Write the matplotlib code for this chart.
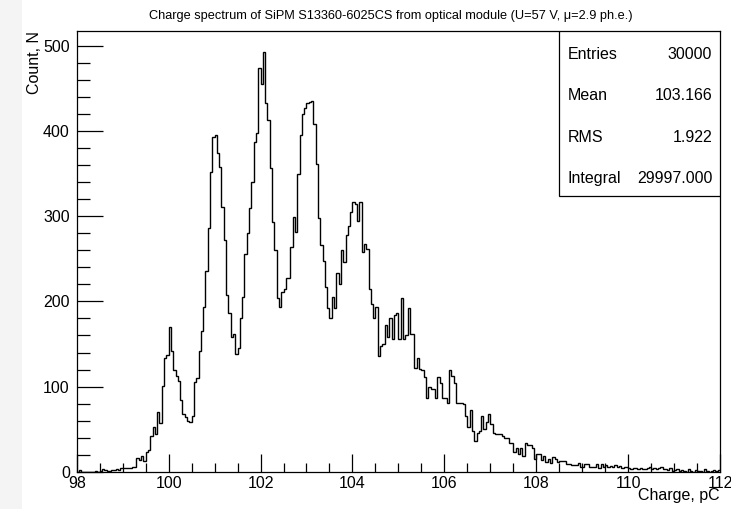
import numpy as np
import matplotlib
matplotlib.use("Agg")
import matplotlib.pyplot as plt
from matplotlib.patches import Rectangle
from matplotlib.ticker import MultipleLocator

plt.rcParams['font.family'] = ['Liberation Sans', 'DejaVu Sans']

# histogram: 280 bins of 0.05 pC from 98 to 112, counts
x_min, x_max, bin_w = 98.0, 112.0, 0.05
c98 = [0, 2, 0, 0, 0, 0, 0, 0, 1, 0, 1, 3, 2, 1, 1, 2, 2, 3, 2, 4]
c99 = [4, 4, 4, 4, 5, 6, 16, 14, 18, 13, 23, 26, 42, 52, 44, 70, 57, 101, 133, 137]
c100 = [170, 142, 120, 113, 107, 84, 68, 64, 60, 58, 66, 105, 110, 142, 165, 193, 236, 286, 352, 393]
c101 = [395, 374, 358, 311, 272, 207, 186, 158, 162, 138, 145, 180, 205, 256, 280, 310, 340, 387, 398, 474]
c102 = [456, 493, 433, 413, 357, 293, 260, 204, 193, 211, 215, 227, 227, 264, 299, 282, 350, 395, 420, 427]
c103 = [433, 434, 436, 409, 362, 298, 266, 248, 217, 192, 180, 205, 192, 233, 221, 260, 246, 278, 289, 305]
c104 = [317, 315, 295, 317, 258, 268, 262, 215, 197, 181, 193, 136, 148, 150, 172, 158, 181, 156, 184, 186]
c105 = [156, 204, 156, 160, 192, 162, 162, 122, 134, 121, 119, 111, 86, 99, 97, 97, 86, 111, 104, 87]
c106 = [87, 81, 119, 113, 104, 81, 81, 81, 80, 66, 52, 72, 48, 36, 46, 48, 66, 50, 58, 68]
c107 = [56, 46, 44, 44, 44, 42, 40, 40, 34, 34, 23, 28, 21, 28, 19, 34, 31, 31, 28, 15]
c108 = [21, 21, 14, 19, 11, 15, 10, 17, 15, 11, 13, 13, 13, 9, 9, 8, 8, 8, 10, 6]
c109 = [6, 9, 9, 6, 6, 6, 9, 4, 9, 6, 8, 5, 7, 6, 8, 5, 7, 4, 6, 5]
c110 = [4, 3, 4, 4, 3, 4, 3, 3, 4, 5, 3, 4, 3, 4, 5, 3, 3, 2, 4, 1]
c111 = [2, 3, 1, 2, 1, 0, 3, 1, 0, 2, 1, 1, 0, 3, 1, 0, 1, 2, 1, 2]

stat_names = ["Entries", "Mean", "RMS", "Integral"]
stat_values = ["30000", "103.166", "1.922", "29997.000"]

counts = np.array(c98 + c99 + c100 + c101 + c102 + c103 + c104 + c105
                  + c106 + c107 + c108 + c109 + c110 + c111)
edges = np.linspace(x_min, x_max, len(counts) + 1)

fig = plt.figure(figsize=(7.31, 5.09), dpi=100)
# pale page margin on the left of the canvas
fig.patches.append(Rectangle((0, 0), 22 / 731, 1, transform=fig.transFigure,
                             facecolor='#f4f4f4', edgecolor='none', zorder=0))
ax = fig.add_axes([0.105, 0.0733, 0.880, 0.8657])

ax.stairs(counts, edges, color='black', lw=1.0, baseline=None)
ax.set_xlim(x_min, x_max)
ax.set_ylim(0, counts.max() * 1.05)

ax.xaxis.set_major_locator(MultipleLocator(2))
ax.xaxis.set_minor_locator(MultipleLocator(0.5))
ax.yaxis.set_major_locator(MultipleLocator(100))
ax.yaxis.set_minor_locator(MultipleLocator(20))
ax.tick_params(which='both', direction='in', top=False, right=False,
               labelsize=11.5, width=0.9)
ax.tick_params(axis='x', which='major', length=13, pad=3)
ax.tick_params(axis='x', which='minor', length=6.5)
ax.tick_params(axis='y', which='major', length=19, pad=5)
ax.tick_params(axis='y', which='minor', length=9.5)
for s in ax.spines.values():
    s.set_linewidth(0.9)

ax.set_xlabel("Charge, pC", fontsize=11.5, loc='right', labelpad=-2)
ax.set_ylabel("Count, N", fontsize=11.5, loc='top', labelpad=1)

fig.text(0.535, 0.969, "Charge spectrum of SiPM S13360-6025CS from optical module (U=57 V, \u03bc=2.9 ph.e.)",
         ha='center', va='center', fontsize=9.2)

# stats box in the top right corner
ax.add_patch(Rectangle((0.75, 0.6256), 0.25, 0.3744, transform=ax.transAxes,
                       facecolor='white', edgecolor='black', lw=0.9, zorder=5))
row_y = [0.946, 0.853, 0.759, 0.666]
for name, val, yy in zip(stat_names, stat_values, row_y):
    ax.text(0.7625, yy, name, transform=ax.transAxes, ha='left', va='center',
            fontsize=11.5, zorder=6)
    ax.text(0.988, yy, val, transform=ax.transAxes, ha='right', va='center',
            fontsize=11.5, zorder=6)

fig.savefig("out.png", dpi=100)
